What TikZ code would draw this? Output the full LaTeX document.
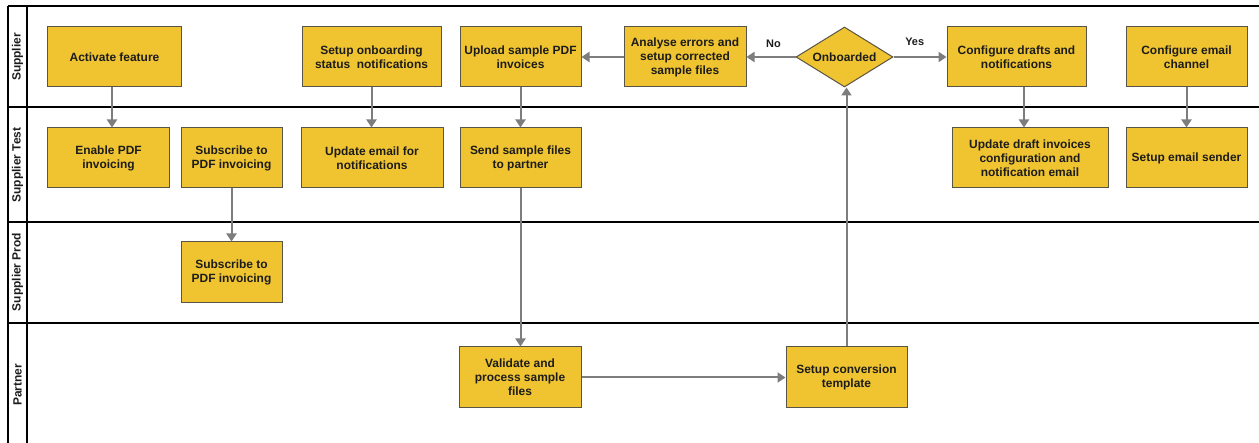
\documentclass[tikz,border=0pt]{standalone}
\usepackage{fontspec}
\setmainfont{Liberation Sans}
\usetikzlibrary{arrows.meta,shapes.geometric}
\definecolor{boxfill}{RGB}{240,196,48}
\definecolor{boxedge}{RGB}{88,84,70}
\definecolor{flow}{RGB}{125,125,125}
\definecolor{ink}{RGB}{28,28,28}
\begin{document}
\begin{tikzpicture}[x=1bp,y=-1bp,
  every node/.style={font=\fontsize{12}{14}\selectfont\bfseries, text=ink},
  task/.style={draw=boxedge, line width=1bp, fill=boxfill, inner sep=0pt,
    align=center, minimum height=60bp},
  decision/.style={draw=boxedge, line width=1bp, fill=boxfill, shape=diamond,
    aspect=1.62, inner sep=0pt, minimum width=97bp, minimum height=60bp},
  lane/.style={rotate=90, inner sep=0pt},
  rule/.style={line width=1.6bp, draw=black},
  arr/.style={draw=flow, line width=2bp, -{Triangle[length=8bp,width=10bp]}},
  tag/.style={inner sep=0pt, font=\fontsize{11}{13}\selectfont\bfseries}]

\useasboundingbox (0,0) rectangle (1259,443);

% swimlane frame
\draw[rule] (8,6) -- (1259,6);
\draw[rule] (8,107) -- (1259,107);
\draw[rule] (8,222) -- (1259,222);
\draw[rule] (8,323) -- (1259,323);
\draw[rule] (8,6) -- (8,443);
\draw[rule] (27,6) -- (27,443);

% lane titles
\node[lane] (lsup)  at (17.5,57)  {Supplier};
\node[lane] (ltest) at (17.5,165) {Supplier Test};
\node[lane] (lprod) at (17.5,272) {Supplier Prod};
\node[lane] (lpart) at (17.5,385) {Partner};

% Supplier lane
\node[task, minimum width=133bp] (act) at (114.5,57) {Activate feature};
\node[task, minimum width=139bp] (onb) at (371.5,57) {Setup onboarding\\status\ \ notifications};
\node[task, minimum width=121bp] (upl) at (520.5,57) {Upload sample PDF\\invoices};
\node[task, minimum width=122bp] (ana) at (685,57) {Analyse errors and\\setup corrected\\sample files};
\node[decision] (dia) at (844.5,57) {Onboarded};
\node[task, minimum width=139bp] (cfd) at (1016.5,57) {Configure drafts and\\notifications};
\node[task, minimum width=121bp] (cfe) at (1186.5,57) {Configure email\\channel};

% Supplier Test lane
\node[task, minimum width=121bp] (enab) at (108.5,158) {Enable PDF\\invoicing};
\node[task, minimum width=101bp] (subt) at (231.5,158) {Subscribe to\\PDF invoicing};
\node[task, minimum width=142bp] (upd)  at (372,158)   {Update email for\\notifications};
\node[task, minimum width=121bp] (send) at (520.5,158) {Send sample files\\to partner};
\node[task, minimum width=156bp] (udi)  at (1030,158)  {Update draft invoices\\configuration and\\notification email};
\node[task, minimum width=121bp] (ses)  at (1186.5,158) {Setup email sender};

% Supplier Prod lane
\node[task, minimum width=101bp, minimum height=61bp] (subp) at (231.5,272.5) {Subscribe to\\PDF invoicing};

% Partner lane
\node[task, minimum width=122bp, minimum height=61bp] (val) at (520,377.5) {Validate and\\process sample\\files};
\node[task, minimum width=121bp, minimum height=61bp] (sct) at (846.5,377.5) {Setup conversion\\template};

% flow
\draw[arr] ([xshift=-2.5bp]act.south) -- ([xshift=-2.5bp]act.south |- enab.north);
\draw[arr] (subt.south) -- (subp.north);
\draw[arr] (onb.south) -- (onb.south |- upd.north);
\draw[arr] (upl.south) -- (upl.south |- send.north);
\draw[arr] (send.south) -- (send.south |- val.north);
\draw[arr] (val.east) -- (sct.west);
\draw[arr] (sct.north) -- (sct.north |- dia.south);
\draw[arr] (dia.west) -- node[tag, above=8.5bp, pos=0.45] (lno) {No} (ana.east);
\draw[arr] (ana.west) -- (upl.east);
\draw[arr] (dia.east) -- node[tag, above=10bp, pos=0.4] (lyes) {Yes} (cfd.west);
\draw[arr] ([xshift=7.5bp]cfd.south) -- ([xshift=7.5bp]cfd.south |- udi.north);
\draw[arr] (cfe.south) -- (cfe.south |- ses.north);
\end{tikzpicture}
\end{document}
